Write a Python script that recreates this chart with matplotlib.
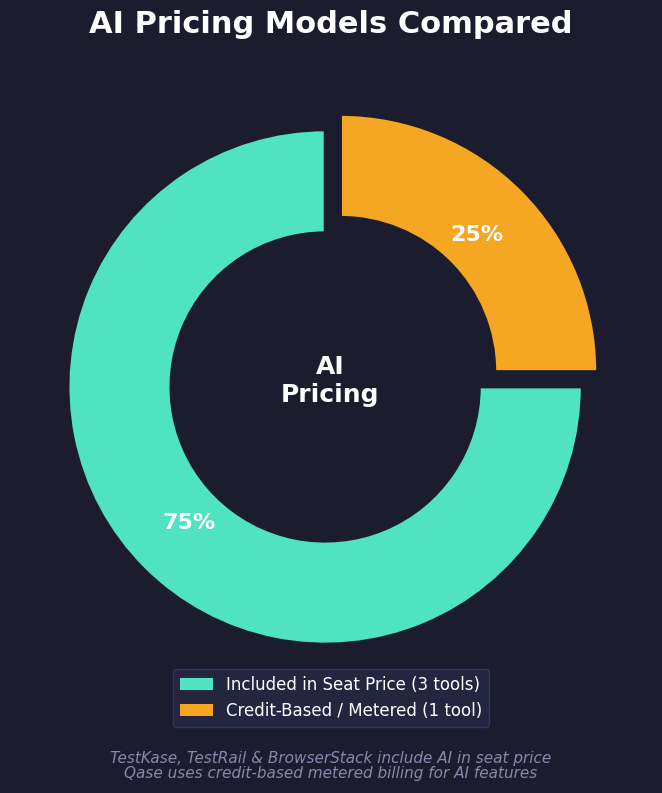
import matplotlib.pyplot as plt
from matplotlib.patches import Patch

labels = ["Included in Seat Price (3 tools)", "Credit-Based / Metered (1 tool)"]
values = [3, 1]
colors = ["#50E3C2", "#F5A623"]
explode = [0, 0.085]

bg = "#1B1D2E"

fig = plt.figure(figsize=(6.62, 7.93), dpi=100, facecolor=bg)
ax = fig.add_axes([0.0056, 0.1068, 0.971, 0.8104])
ax.set_facecolor(bg)

wedges, texts, autotexts = ax.pie(
    values,
    colors=colors,
    explode=explode,
    startangle=90,
    autopct="%1.0f%%",
    pctdistance=0.75,
    wedgeprops=dict(width=0.40, edgecolor=bg, linewidth=2),
    textprops=dict(color="white", fontsize=16, fontweight="bold"),
)
ax.set_aspect("equal")

ax.text(0.02, 0.024, "AI\nPricing", ha="center", va="center", color="white",
        fontsize=18, fontweight="bold", linespacing=1.2)

fig.suptitle("AI Pricing Models Compared", color="white", fontsize=22,
             fontweight="bold", y=0.987)

handles = [Patch(facecolor=c, edgecolor="none") for c in colors]
leg = fig.legend(handles, labels, loc="center", bbox_to_anchor=(0.5, 0.12),
                 frameon=True, facecolor="#242640", edgecolor="#34365A",
                 fontsize=12, labelcolor="white", handlelength=2.0)
leg.get_frame().set_alpha(1)

fig.text(0.5, 0.034,
         "TestKase, TestRail & BrowserStack include AI in seat price\n"
         "Qase uses credit-based metered billing for AI features",
         ha="center", va="center", color="#8A88AA", fontsize=11,
         style="italic", linespacing=1.0)

fig.savefig("out.png", dpi=100, facecolor=bg)
